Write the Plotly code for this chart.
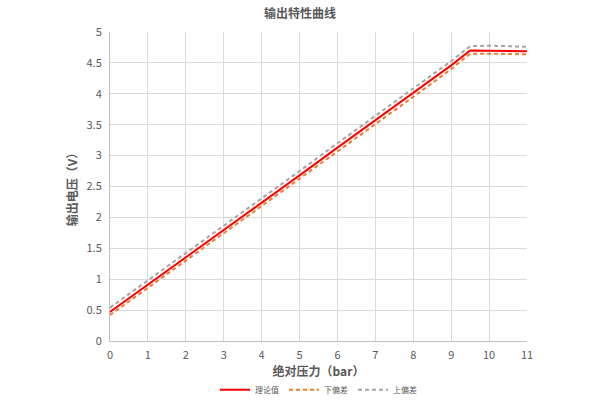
import plotly.graph_objects as go

pressure = [0, 1, 2, 3, 4, 5, 6, 7, 8, 9, 9.5, 10, 11]
theory = [0.47, 0.91, 1.36, 1.80, 2.24, 2.68, 3.13, 3.57, 4.01, 4.46, 4.70, 4.70, 4.69]
lower = [0.42, 0.86, 1.30, 1.74, 2.18, 2.62, 3.07, 3.51, 3.95, 4.40, 4.65, 4.65, 4.64]
upper = [0.54, 0.98, 1.43, 1.87, 2.31, 2.75, 3.20, 3.64, 4.08, 4.53, 4.77, 4.78, 4.76]

x_ticks = list(range(0, 12))
y_ticks = [0, 0.5, 1, 1.5, 2, 2.5, 3, 3.5, 4, 4.5, 5]

FONT = "Noto Sans CJK SC"

fig = go.Figure()
fig.add_trace(go.Scatter(x=pressure, y=theory, mode="lines", name="理论值",
                         line=dict(color="#FF0000", width=2)))
fig.add_trace(go.Scatter(x=pressure, y=lower, mode="lines", name="下偏差",
                         line=dict(color="#ED7D31", width=2, dash="4px,3px")))
fig.add_trace(go.Scatter(x=pressure, y=upper, mode="lines", name="上偏差",
                         line=dict(color="#A5A5A5", width=2, dash="4px,3px")))

fig.update_layout(
    width=600, height=400,
    paper_bgcolor="white", plot_bgcolor="white",
    margin=dict(l=110, r=73, t=32, b=59, autoexpand=False),
    font=dict(family=FONT, color="#595959", size=11),
    title=dict(text="<b>输出特性曲线</b>", x=0.5, xanchor="center", y=0.965, yanchor="middle",
               font=dict(size=12, color="#595959", family=FONT)),
    showlegend=True,
    legend=dict(orientation="h", x=0.5, xanchor="center", y=-0.158, yanchor="middle",
                font=dict(size=8, color="#595959", family=FONT), itemwidth=30),
)
fig.update_xaxes(range=[0, 11], tickvals=x_ticks, showgrid=True, gridcolor="#D9D9D9",
                 showline=True, linecolor="#BFBFBF", zeroline=False, ticks="",
                 ticklabelstandoff=4, automargin=False,
                 title=dict(text="<b>绝对压力（bar）</b>", font=dict(size=12, color="#595959"), standoff=3),
                 tickfont=dict(size=11, color="#595959"))
fig.update_yaxes(range=[0, 5], tickvals=y_ticks, showgrid=True, gridcolor="#D9D9D9",
                 showline=True, linecolor="#BFBFBF", zeroline=False, ticks="",
                 ticklabelstandoff=5, automargin=False,
                 title=dict(text="<b>输出电压（V）</b>", font=dict(size=12, color="#595959"), standoff=6),
                 tickfont=dict(size=11, color="#595959"))

fig.write_html("out.html", config={"displayModeBar": False},
               post_script="document.body.style.margin='0';")
